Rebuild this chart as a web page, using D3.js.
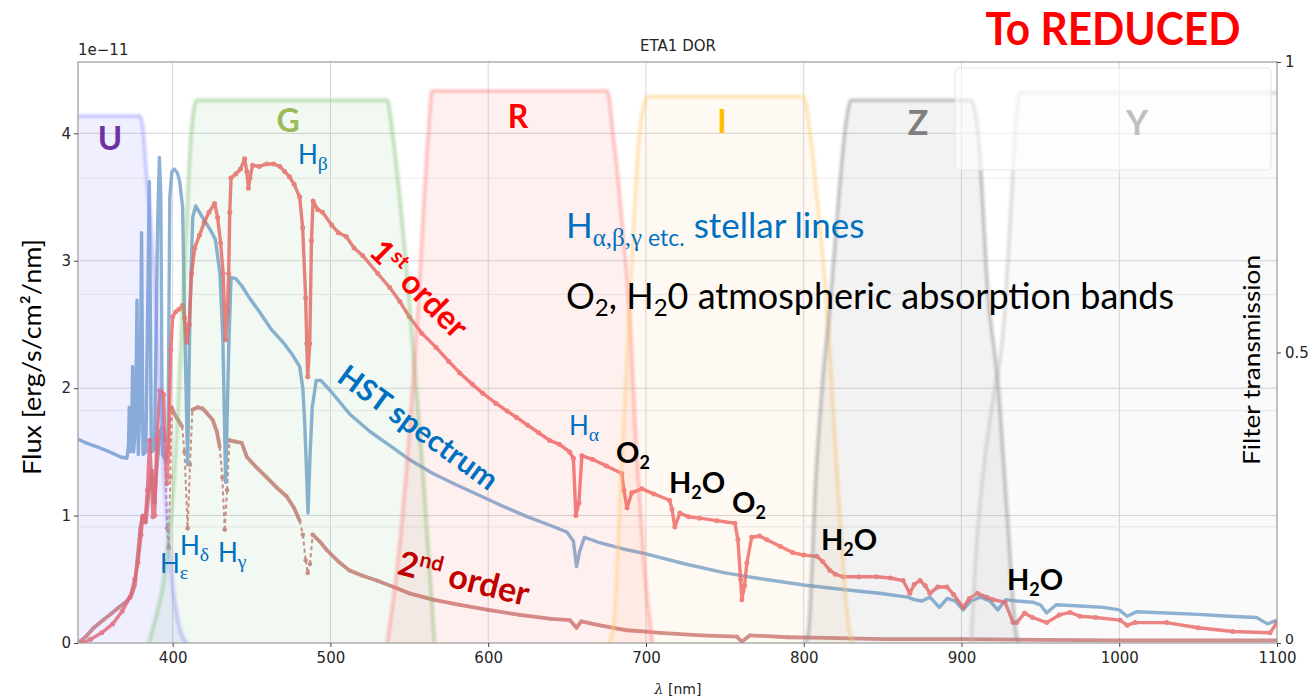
<!DOCTYPE html>
<html>
<head>
<meta charset="utf-8">
<script src="https://cdn.jsdelivr.net/npm/d3@7"></script>
<style>
  body { margin: 0; background: #fff; }
  svg { display: block; }
  .tick text { font-family: "DejaVu Sans", sans-serif; font-size: 15px; fill: #262626; }
  .tick line { stroke: #444; }
</style>
</head>
<body>
<svg id="chart" width="1312" height="696"></svg>
<script>
// ---- data (wavelength nm, flux 1e-11 erg/s/cm2/nm) ----
const hst = [[340,1.60],[345,1.57],[352,1.54],[360,1.50],[367,1.46],[371,1.45],[372,1.55],[372.5,1.85],[373,1.50],[374,1.6],[374.6,2.17],[375.2,1.50],[376.5,1.7],[377.4,2.69],[378.2,1.48],[379.5,2.0],[380.3,3.22],[381.2,1.48],[383,1.5],[385.2,3.62],[386.5,1.50],[388.5,1.52],[390.5,3.3],[391.6,3.81],[392.5,3.5],[393.5,1.48],[395.6,1.43],[397,1.55],[398.2,3.5],[399.5,3.70],[401,3.72],[403,3.69],[404.5,3.62],[406.3,3.42],[407.4,2.64],[409.5,1.40],[411,2.64],[412.7,3.34],[414.6,3.43],[417,3.38],[420,3.32],[424,3.24],[427,3.17],[430,2.9],[431.8,2.4],[433.6,1.26],[435.5,2.3],[437,2.87],[440,2.86],[444,2.80],[448,2.72],[455,2.6],[462,2.47],[470,2.36],[476,2.26],[480.5,2.17],[482.5,2.0],[483.7,1.73],[485,1.3],[485.8,1.02],[487,1.45],[488.5,1.85],[491,2.06],[494,2.06],[500,1.98],[512,1.80],[525,1.66],[540,1.53],[550,1.44],[565,1.33],[580,1.24],[596,1.15],[610,1.07],[625,0.99],[640,0.92],[650,0.87],[654,0.8],[656,0.60],[658,0.72],[661,0.83],[670,0.79],[685,0.74],[700,0.70],[725,0.62],[750,0.55],[775,0.50],[800,0.455],[825,0.42],[848,0.39],[860,0.37],[866,0.36],[870,0.34],[875,0.33],[880,0.36],[886,0.28],[891,0.35],[896,0.33],[901,0.26],[906,0.33],[912,0.36],[918,0.33],[923,0.26],[928,0.34],[935,0.33],[945,0.32],[950,0.30],[954,0.235],[960,0.30],[975,0.29],[990,0.28],[1000,0.26],[1005,0.21],[1011,0.245],[1030,0.235],[1050,0.225],[1070,0.21],[1087,0.20],[1094,0.15],[1100,0.18]];

const firstOrder = [[343,0],[348,0.03],[355,0.08],[362,0.15],[368,0.25],[373,0.36],[376,0.5],[378,0.63],[380,0.85],[381,0.99],[382.5,0.95],[384,1.2],[385.4,1.59],[386.5,1.3],[387.5,0.99],[388.6,1.0],[390,1.6],[391.8,1.98],[393,1.97],[394.3,1.95],[395.3,1.5],[396.3,1.25],[397.5,1.5],[398.8,2.3],[400,2.56],[402,2.6],[404,2.62],[406.3,2.65],[407.5,2.55],[409,2.36],[410.5,2.5],[412,2.9],[414,3.1],[417,3.2],[420,3.3],[423,3.38],[426.6,3.45],[428.5,3.34],[430.4,3.14],[432,2.9],[433.5,2.38],[434.7,2.6],[435.5,2.9],[436.2,3.38],[437,3.65],[440,3.68],[443,3.72],[445.6,3.80],[447,3.7],[448,3.57],[449,3.65],[450.7,3.75],[455,3.74],[459.6,3.76],[464,3.76],[468,3.74],[471,3.7],[474,3.66],[477,3.6],[480.5,3.50],[482.4,3.26],[484.3,2.71],[485,2.35],[485.6,2.09],[486.9,2.35],[488,3.16],[489,3.47],[492,3.4],[495,3.38],[500.8,3.28],[505,3.22],[510,3.19],[515,3.1],[520.5,3.04],[530,2.9],[537.6,2.79],[544,2.68],[550,2.56],[558,2.43],[567,2.32],[575,2.21],[582,2.12],[590,2.03],[596.6,1.96],[605,1.88],[612,1.82],[618,1.77],[625,1.71],[632,1.65],[639,1.59],[645,1.56],[651.7,1.50],[654,1.45],[655.6,1.00],[657.5,1.1],[659.4,1.47],[666.3,1.44],[675,1.39],[684.7,1.33],[686,1.2],[688,1.06],[691,1.18],[697.4,1.21],[705,1.17],[715,1.12],[716.5,1.05],[718.3,0.91],[721.5,1.02],[727,0.99],[734,0.98],[745,0.96],[756.4,0.94],[758.3,0.81],[760,0.5],[760.8,0.34],[762.5,0.45],[764,0.63],[767,0.83],[772,0.84],[776.7,0.81],[785,0.76],[793,0.71],[800,0.69],[808.4,0.68],[812,0.64],[816.6,0.57],[820,0.54],[824.9,0.52],[835,0.52],[846,0.52],[855,0.51],[863,0.49],[867.3,0.39],[870,0.46],[873.7,0.49],[877,0.45],[880,0.39],[885,0.44],[890.8,0.44],[895,0.38],[901,0.28],[905,0.35],[910,0.39],[916,0.36],[920,0.34],[927.6,0.32],[932.7,0.16],[935,0.16],[940,0.235],[945,0.2],[954,0.16],[962,0.22],[968.8,0.24],[975,0.21],[985,0.2],[1000.5,0.18],[1005,0.14],[1010,0.16],[1030,0.16],[1050,0.12],[1072,0.09],[1095.6,0.08],[1100,0.16]];

const secondOrder = [[340,0],[345,0.05],[350,0.12],[356,0.18],[361,0.23],[366,0.28],[371,0.33],[374,0.38],[376,0.45],[378,0.7],[379.5,0.9],[381,1.0],[383,0.95],[385,1.2],[387,1.35],[388.5,1.1],[390,1.4],[391.8,1.65],[393.5,1.7],[395,1.6],[396.5,0.9],[397.5,0.75],[398.5,1.3],[399.5,1.85],[401,1.80],[403,1.76],[406,1.70],[407.5,1.5],[409.5,0.90],[411,1.4],[412.5,1.83],[416,1.85],[419,1.84],[422,1.8],[425.4,1.75],[428,1.66],[429.8,1.54],[431.5,1.3],[433,0.89],[434.5,1.2],[436,1.59],[440,1.58],[443.8,1.57],[447,1.46],[453,1.38],[459.6,1.30],[466,1.22],[472.3,1.15],[477,1.06],[480.5,0.96],[482.5,0.85],[484.3,0.65],[485.6,0.55],[487,0.62],[488.8,0.85],[493,0.8],[497.7,0.73],[505,0.64],[512,0.57],[520,0.53],[529.4,0.49],[540,0.44],[550,0.39],[565,0.34],[582,0.30],[600,0.26],[620,0.22],[640,0.19],[651.7,0.18],[656,0.12],[659,0.17],[670,0.14],[688,0.10],[700,0.09],[709,0.08],[735,0.06],[757.6,0.05],[760.8,0.01],[766,0.06],[790,0.045],[814.7,0.04],[850,0.03],[900,0.03],[950,0.025],[1000,0.02],[1050,0.02],[1100,0.02]];

// wavelength ranges where the 2nd order is drawn dashed
const dashedRanges = [[394.5,399],[406.5,412],[430.5,436],[481.5,489]];

// filter transmission curves (wavelength, transmission)
const filterU = [[340,0.907],[379,0.907],[381,0.89],[383,0.82],[388.4,0.64],[394.7,0.29],[400,0.10],[405,0.02],[409,0]];
const filterG = [[385,0],[388,0.03],[395,0.12],[401,0.29],[407.4,0.64],[411.6,0.87],[415,0.934],[536,0.934],[539.7,0.87],[550.3,0.58],[558.7,0.29],[566,0]];
const filterR = [[536,0],[542,0.12],[548,0.29],[555.6,0.58],[561.9,0.87],[564.5,0.95],[675.5,0.95],[679,0.88],[685,0.72],[690,0.55],[693,0.38],[696,0.25],[700,0.1],[704,0]];
const filterI = [[676,0],[679,0.02],[684.5,0.3],[689.8,0.59],[696,0.88],[701,0.94],[800,0.94],[804,0.88],[809,0.75],[814.5,0.59],[820.9,0.30],[829,0.02],[832,0]];
const filterZ = [[801,0],[803,0.02],[808,0.30],[812,0.45],[817,0.59],[822,0.76],[827,0.9],[830,0.934],[906,0.934],[910.5,0.88],[916.8,0.6],[923,0.45],[929,0.22],[935,0.01],[937,0]];
const filterY = [[906,0],[909,0.15],[914,0.3],[920,0.42],[926.5,0.54],[931.8,0.77],[934,0.88],[937,0.947],[1100,0.947]];

const xTicks = [400,500,600,700,800,900,1000,1100];
const yTicks = [0,1,2,3,4];
const tTicks = [0,0.5,1];
const tGrid = [0.2,0.4,0.6,0.8];

// ---- layout ----
const pl = 78, pr = 1277, pt = 62, pb = 643;
const x = d3.scaleLinear().domain([340,1100]).range([pl,pr]);
const y = d3.scaleLinear().domain([0,4.56]).range([pb,pt]);
const yT = d3.scaleLinear().domain([0,1]).range([pb,pt]);

const svg = d3.select("#chart");
const defs = svg.append("defs");
defs.append("clipPath").attr("id","plot").append("rect")
  .attr("x",pl).attr("y",pt).attr("width",pr-pl).attr("height",pb-pt);
defs.append("filter").attr("id","soft").attr("x","-5%").attr("y","-5%").attr("width","110%").attr("height","110%")
  .append("feGaussianBlur").attr("stdDeviation",0.9);

svg.append("rect").attr("width",1312).attr("height",696).attr("fill","#fff");

// grid
const grid = svg.append("g");
grid.selectAll(".gx").data(xTicks.slice(0,-1)).join("line")
  .attr("x1",d=>x(d)).attr("x2",d=>x(d)).attr("y1",pt).attr("y2",pb)
  .attr("stroke","#d6d6d6").attr("stroke-width",1);
grid.selectAll(".gy").data(yTicks.slice(1)).join("line")
  .attr("x1",pl).attr("x2",pr).attr("y1",d=>y(d)).attr("y2",d=>y(d))
  .attr("stroke","#d6d6d6").attr("stroke-width",1);
grid.selectAll(".gt").data(tGrid).join("line")
  .attr("x1",pl).attr("x2",pr).attr("y1",d=>yT(d)).attr("y2",d=>yT(d))
  .attr("stroke","#ebebeb").attr("stroke-width",1);

const plot = svg.append("g").attr("clip-path","url(#plot)");

// 2nd order: segment by segment so dip regions can be dashed
const inDash = w => dashedRanges.some(r => w >= r[0] && w <= r[1]);
const g2 = plot.append("g").attr("opacity",0.7);
g2.selectAll("line").data(d3.pairs(secondOrder)).join("line")
  .attr("x1",d=>x(d[0][0])).attr("y1",d=>y(d[0][1]))
  .attr("x2",d=>x(d[1][0])).attr("y2",d=>y(d[1][1]))
  .attr("stroke","#c0605c")
  .attr("stroke-width",d=>inDash((d[0][0]+d[1][0])/2) ? 2 : 3.8)
  .attr("stroke-dasharray",d=>inDash((d[0][0]+d[1][0])/2) ? "4,3" : null)
  .attr("stroke-linecap",d=>inDash((d[0][0]+d[1][0])/2) ? "butt" : "round");
g2.selectAll("circle").data(secondOrder.filter(d=>inDash(d[0]))).join("circle")
  .attr("cx",d=>x(d[0])).attr("cy",d=>y(d[1])).attr("r",2.3).attr("fill","#c0605c");

// HST spectrum
const line = d3.line().x(d=>x(d[0])).y(d=>y(d[1]));
plot.append("path").datum(hst).attr("d",line)
  .attr("fill","none").attr("stroke","#82acd2").attr("stroke-width",3.4)
  .attr("stroke-linejoin","round").attr("opacity",0.92);

// 1st order
const g1 = plot.append("g").attr("opacity",0.82);
g1.append("path").datum(firstOrder).attr("d",line)
  .attr("fill","none").attr("stroke","#f06666").attr("stroke-width",3.4)
  .attr("stroke-linejoin","round");
g1.selectAll("circle").data(firstOrder).join("circle")
  .attr("cx",d=>x(d[0])).attr("cy",d=>y(d[1])).attr("r",2.5).attr("fill","#f06666");

// filter bands on top, translucent
const bands = [
  {data: filterU, fill:"#7070ff", fo:0.11, stroke:"#8c8cff", so:0.4},
  {data: filterG, fill:"#4a9a40", fo:0.07, stroke:"#7cbf72", so:0.42},
  {data: filterR, fill:"#ff4040", fo:0.08, stroke:"#ff7a7a", so:0.4},
  {data: filterI, fill:"#ffa030", fo:0.06, stroke:"#ffcf80", so:0.5},
  {data: filterZ, fill:"#808080", fo:0.10, stroke:"#8c8c8c", so:0.45},
  {data: filterY, fill:"#a0a0a0", fo:0.05, stroke:"#b4b4b4", so:0.4}
];
const area = d3.area().curve(d3.curveMonotoneX).x(d=>x(d[0])).y0(pb).y1(d=>yT(d[1]));
const edge = d3.line().curve(d3.curveMonotoneX).x(d=>x(d[0])).y(d=>yT(d[1]));
const gb = plot.append("g");
bands.forEach(b => {
  gb.append("path").datum(b.data).attr("d",area)
    .attr("fill",b.fill).attr("fill-opacity",b.fo);
  gb.append("path").datum(b.data).attr("d",edge)
    .attr("fill","none").attr("stroke",b.stroke).attr("stroke-opacity",b.so)
    .attr("stroke-width",4).attr("filter","url(#soft)");
});

// faint legend-like box top right
svg.append("rect").attr("x",955).attr("y",68).attr("width",316).attr("height",102).attr("rx",5)
  .attr("fill","#fff").attr("fill-opacity",0.6).attr("stroke","#e4e4e4");

// frame
svg.append("rect").attr("x",pl).attr("y",pt).attr("width",pr-pl).attr("height",pb-pt)
  .attr("fill","none").attr("stroke","#9a9a9a").attr("stroke-width",1.2);

// axes
const ax = svg.append("g").attr("transform",`translate(0,${pb})`)
  .call(d3.axisBottom(x).tickValues(xTicks).tickSize(4).tickPadding(5).tickFormat(d3.format("d")));
const ay = svg.append("g").attr("transform",`translate(${pl},0)`)
  .call(d3.axisLeft(y).tickValues(yTicks).tickSize(4).tickPadding(3).tickFormat(d3.format("d")));
const at = svg.append("g").attr("transform",`translate(${pr},0)`)
  .call(d3.axisRight(yT).tickValues(tTicks).tickSize(4).tickPadding(4).tickFormat(d=>String(d)));
[ax,ay,at].forEach(a => a.select(".domain").remove());
// lift the right-hand "0" a little so it clears the "1100" below it
at.selectAll(".tick text").filter(d => d === 0).attr("dy","0.05em").style("font-size","14px");

const mpl = (t,xx,yy,anchor) => svg.append("text").attr("x",xx).attr("y",yy)
  .attr("text-anchor",anchor||"start").attr("font-family","DejaVu Sans, sans-serif")
  .attr("font-size",15).attr("fill","#262626").text(t);
mpl("1e\u221211",pl,55);
mpl("ETA1 DOR",678,51,"middle");
const xl = svg.append("text").attr("x",678).attr("y",694).attr("text-anchor","middle")
  .attr("font-family","DejaVu Sans, sans-serif").attr("font-size",14).attr("fill","#262626");
xl.append("tspan").attr("font-style","italic").attr("font-family","DejaVu Serif, serif").text("\u03bb");
xl.append("tspan").text(" [nm]");

// ---- overlay annotations ----
const F = "Lato, 'Open Sans', sans-serif";
const GREEK = "'Liberation Serif', 'DejaVu Serif', serif";

svg.append("text").attr("x",1113).attr("y",45).attr("text-anchor","middle")
  .attr("font-family",F).attr("font-weight",700).attr("font-size",46).attr("fill","#ff0000")
  .attr("textLength",255).attr("lengthAdjust","spacingAndGlyphs").text("To REDUCED");

svg.append("text").attr("transform","translate(41,357) rotate(-90)").attr("text-anchor","middle")
  .attr("font-family",F).attr("font-size",25).attr("fill","#000")
  .attr("textLength",236).attr("lengthAdjust","spacingAndGlyphs").text("Flux [erg/s/cm\u00b2/nm]");
svg.append("text").attr("transform","translate(1260,360) rotate(-90)").attr("text-anchor","middle")
  .attr("font-family",F).attr("font-size",24).attr("fill","#000")
  .attr("textLength",210).attr("lengthAdjust","spacingAndGlyphs").text("Filter transmission");

// filter letters
const letters = [["U",110,150,"#7030a0",33],["G",288,132,"#9bbb59",32],["R",518,128,"#ff0000",32],
                 ["I",722,133,"#ffc000",32],["Z",918,135,"#7f7f7f",34],["Y",1137,135,"#bfbfbf",34]];
svg.selectAll(".band-label").data(letters).join("text")
  .attr("x",d=>d[1]).attr("y",d=>d[2]).attr("text-anchor","middle")
  .attr("font-family",F).attr("font-weight",700).attr("font-size",d=>d[4]).attr("fill",d=>d[3])
  .text(d=>d[0]);

// H line labels (blue, greek subscript)
function hLabel(xx, yy, greek, size) {
  const t = svg.append("text").attr("x",xx).attr("y",yy).attr("font-family",F)
    .attr("font-size",size).attr("fill","#0070c0");
  t.append("tspan").text("H");
  t.append("tspan").attr("font-family",GREEK).attr("font-size",size*0.76).attr("dy",size*0.24).text(greek);
  return t;
}
hLabel(298,164,"\u03b2",26);
hLabel(160,573,"\u03b5",26);
hLabel(180,555,"\u03b4",26);
hLabel(218,562,"\u03b3",26);
hLabel(569,435,"\u03b1",26);

// molecule labels (black bold with subscript 2)
function mol(xx, yy, a, b) {
  const t = svg.append("text").attr("x",xx).attr("y",yy).attr("font-family",F)
    .attr("font-weight",700).attr("font-size",29).attr("fill","#000");
  t.append("tspan").text(a);
  t.append("tspan").attr("font-size",18).attr("dy",6).text("2");
  if (b) t.append("tspan").attr("dy",-6).text(b);
}
mol(616,463,"O");
mol(669,493,"H","O");
mol(732,513,"O");
mol(821,550,"H","O");
mol(1007,590,"H","O");

// stellar lines note
const s1 = svg.append("text").attr("x",566).attr("y",238).attr("font-family",F)
  .attr("font-size",35).attr("fill","#0070c0");
s1.append("tspan").text("H");
s1.append("tspan").attr("font-family",GREEK).attr("font-size",25).attr("dy",8).text("\u03b1,\u03b2,\u03b3");
s1.append("tspan").attr("font-size",23).text(" etc.");
s1.append("tspan").attr("dy",-8).text(" stellar lines");

const s2 = svg.append("text").attr("x",566).attr("y",309).attr("font-family",F)
  .attr("font-size",36).attr("fill","#000");
s2.append("tspan").text("O");
s2.append("tspan").attr("font-size",24).attr("dy",7).text("2");
s2.append("tspan").attr("dy",-7).text(", H");
s2.append("tspan").attr("font-size",24).attr("dy",7).text("2");
s2.append("tspan").attr("dy",-7).text("0 atmospheric absorption bands");

// rotated curve labels
function rotLabel(cx, cy, ang, color, size, main, sup, rest) {
  const t = svg.append("text").attr("transform",`translate(${cx},${cy}) rotate(${ang})`)
    .attr("text-anchor","middle").attr("font-family",F).attr("font-weight",700)
    .attr("font-size",size).attr("fill",color);
  t.append("tspan").text(main);
  if (sup) t.append("tspan").attr("font-size",size*0.62).attr("dy",-size*0.38).text(sup);
  t.append("tspan").attr("dy",sup ? size*0.38 : 0).text(rest);
}
rotLabel(411,297,45,"#ff0000",33,"1","st"," order");
rotLabel(412,436,36,"#0070c0",30,"","","HST spectrum");
rotLabel(461,590,14,"#c00000",34,"2","nd"," order");
</script>
</body>
</html>
